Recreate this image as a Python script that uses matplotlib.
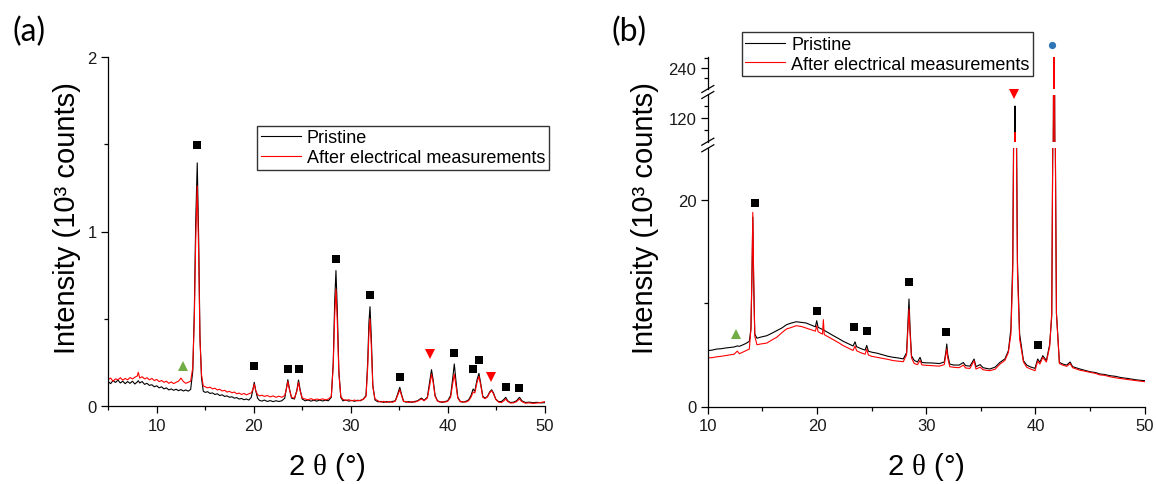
import matplotlib
matplotlib.use("Agg")
import matplotlib.pyplot as plt
from matplotlib.lines import Line2D

plt.rcParams['font.family'] = ['Liberation Sans', 'DejaVu Sans']
plt.rcParams['mathtext.fontset'] = 'custom'
plt.rcParams['mathtext.rm'] = 'Liberation Serif'

# ---------------- data: panel (a), intensity in 10^3 counts ----------------
two_theta_a = [
    5.00, 5.25, 5.50, 5.75, 6.00, 6.25, 6.50, 6.75, 7.00, 7.25, 7.50, 7.75,
    8.00, 8.10, 8.25, 8.50, 8.75, 9.00, 9.25, 9.50, 9.75, 10.00, 10.25, 10.50,
    10.75, 11.00, 11.25, 11.50, 11.75, 12.00, 12.25, 12.50, 12.75, 13.00, 13.25,
    13.50, 13.72, 13.88, 14.02, 14.18, 14.33, 14.46, 14.62, 14.80,
    15.00, 15.25, 15.50, 15.75, 16.00, 16.25, 16.50, 16.75, 17.00, 17.25,
    17.50, 17.75, 18.00, 18.25, 18.50, 18.75, 19.00, 19.25, 19.50,
    19.75, 19.92, 20.06, 20.20, 20.40, 20.60, 20.85, 21.10, 21.40, 21.70,
    22.00, 22.30, 22.60, 22.90, 23.20, 23.38, 23.52, 23.68, 23.90, 24.20,
    24.45, 24.62, 24.78, 25.00, 25.30, 25.60, 25.90, 26.20, 26.50, 26.80,
    27.10, 27.40, 27.70, 28.00, 28.20, 28.35, 28.48, 28.62, 28.78, 28.98,
    29.20, 29.50, 29.80, 30.10, 30.40, 30.70, 31.00, 31.30, 31.58, 31.75,
    31.88, 31.99, 32.12, 32.28, 32.50, 32.80, 33.10, 33.40, 33.70, 34.00,
    34.30, 34.60, 34.85, 35.06, 35.25, 35.45, 35.70, 36.00, 36.30, 36.60,
    36.90, 37.15, 37.32, 37.55, 37.90, 38.15, 38.33, 38.50, 38.70, 38.95,
    39.20, 39.45, 39.70, 40.00, 40.30, 40.52, 40.68, 40.84, 41.04, 41.30,
    41.55, 41.85, 42.15, 42.40, 42.62, 42.80, 43.02, 43.22, 43.40, 43.62,
    43.85, 44.10, 44.32, 44.53, 44.72, 44.95, 45.25, 45.55, 45.80, 45.98,
    46.18, 46.45, 46.80, 47.10, 47.40, 47.65, 48.00, 48.40, 48.80, 49.20,
    49.60, 50.00,
]
pristine_a = [
    0.140, 0.128, 0.146, 0.135, 0.148, 0.132, 0.142, 0.128, 0.140, 0.130, 0.142, 0.126,
    0.138, 0.145, 0.132, 0.140, 0.124, 0.130, 0.118, 0.122, 0.110, 0.116, 0.104, 0.110,
    0.098, 0.104, 0.092, 0.098, 0.090, 0.096, 0.088, 0.094, 0.086, 0.092, 0.085,
    0.095, 0.200, 0.550, 1.050, 1.393, 0.950, 0.400, 0.160, 0.085,
    0.078, 0.082, 0.072, 0.075, 0.066, 0.070, 0.060, 0.064, 0.055, 0.058,
    0.050, 0.053, 0.045, 0.048, 0.040, 0.043, 0.036, 0.040, 0.034,
    0.050, 0.095, 0.136, 0.090, 0.045, 0.032, 0.028, 0.034, 0.026, 0.031,
    0.025, 0.030, 0.026, 0.030, 0.045, 0.105, 0.151, 0.100, 0.045, 0.040,
    0.090, 0.149, 0.095, 0.040, 0.030, 0.034, 0.028, 0.033, 0.028, 0.034,
    0.029, 0.033, 0.030, 0.050, 0.250, 0.600, 0.776, 0.550, 0.200, 0.050,
    0.030, 0.034, 0.028, 0.032, 0.027, 0.033, 0.030, 0.040, 0.060, 0.250,
    0.480, 0.569, 0.400, 0.120, 0.035, 0.024, 0.026, 0.021, 0.025, 0.022,
    0.026, 0.030, 0.070, 0.107, 0.065, 0.028, 0.022, 0.025, 0.021, 0.026,
    0.030, 0.040, 0.045, 0.032, 0.050, 0.140, 0.208, 0.150, 0.060, 0.030,
    0.024, 0.021, 0.025, 0.030, 0.060, 0.160, 0.241, 0.150, 0.050, 0.026,
    0.022, 0.026, 0.035, 0.060, 0.097, 0.085, 0.150, 0.187, 0.130, 0.055,
    0.045, 0.055, 0.080, 0.093, 0.075, 0.040, 0.025, 0.026, 0.038, 0.050,
    0.030, 0.020, 0.022, 0.030, 0.050, 0.030, 0.020, 0.022, 0.019, 0.021,
    0.018, 0.019,
]
after_a = [
    0.152, 0.160, 0.142, 0.156, 0.150, 0.162, 0.148, 0.158, 0.150, 0.163, 0.155, 0.165,
    0.172, 0.193, 0.160, 0.168, 0.155, 0.162, 0.150, 0.158, 0.146, 0.152, 0.140, 0.146,
    0.136, 0.142, 0.130, 0.138, 0.128, 0.136, 0.142, 0.160, 0.140, 0.130, 0.136,
    0.142, 0.220, 0.500, 0.950, 1.262, 0.860, 0.380, 0.180, 0.115,
    0.110, 0.104, 0.108, 0.098, 0.102, 0.092, 0.096, 0.086, 0.090, 0.080,
    0.084, 0.076, 0.080, 0.070, 0.074, 0.066, 0.072, 0.064, 0.070,
    0.075, 0.095, 0.126, 0.090, 0.065, 0.058, 0.062, 0.055, 0.060, 0.052,
    0.058, 0.050, 0.056, 0.050, 0.060, 0.100, 0.140, 0.095, 0.050, 0.045,
    0.085, 0.136, 0.088, 0.045, 0.040, 0.036, 0.042, 0.035, 0.040, 0.036,
    0.041, 0.035, 0.040, 0.055, 0.230, 0.520, 0.670, 0.480, 0.185, 0.055,
    0.038, 0.032, 0.036, 0.030, 0.034, 0.029, 0.033, 0.038, 0.055, 0.220,
    0.420, 0.499, 0.350, 0.110, 0.040, 0.030, 0.022, 0.027, 0.020, 0.026,
    0.021, 0.028, 0.062, 0.093, 0.058, 0.025, 0.026, 0.020, 0.025, 0.022,
    0.028, 0.036, 0.040, 0.030, 0.045, 0.120, 0.183, 0.135, 0.055, 0.028,
    0.022, 0.025, 0.022, 0.027, 0.050, 0.130, 0.183, 0.120, 0.045, 0.024,
    0.025, 0.022, 0.030, 0.050, 0.080, 0.075, 0.135, 0.170, 0.120, 0.050,
    0.042, 0.052, 0.075, 0.088, 0.070, 0.038, 0.022, 0.020, 0.030, 0.040,
    0.026, 0.017, 0.018, 0.025, 0.040, 0.025, 0.016, 0.018, 0.015, 0.017,
    0.020, 0.025,
]

# phase markers, panel (a): (2theta, height)
square_a_x = [14.12, 20.05, 23.50, 24.62, 28.48, 31.99, 35.05, 40.68, 42.61, 43.25, 45.98, 47.39]
square_a_y = [1.496, 0.227, 0.212, 0.212, 0.841, 0.638, 0.168, 0.302, 0.210, 0.265, 0.109, 0.105]
tri_down_a_x = [38.18, 44.50]
tri_down_a_y = [0.298, 0.164]
tri_up_a_x = [12.68]
tri_up_a_y = [0.227]

# ---------------- data: panel (b), intensity in 10^3 counts ----------------
two_theta_b = [
    10.00, 10.40, 10.80, 11.20, 11.60, 12.00, 12.40, 12.70, 12.90, 13.20, 13.50,
    13.80, 13.95, 14.05, 14.12, 14.20, 14.30, 14.50, 14.90, 15.40, 15.90, 16.30,
    16.80, 17.20, 17.60, 18.10, 18.60, 19.00, 19.50, 19.85, 19.97, 20.10, 20.30,
    20.50, 20.58, 20.66, 21.00, 21.50, 22.00, 22.40, 22.90, 23.30, 23.48, 23.62,
    24.00, 24.40, 24.55, 24.70, 25.00, 25.50, 26.00, 26.50, 27.00, 27.50, 27.90,
    28.20, 28.32, 28.42, 28.52, 28.65, 28.90, 29.20, 29.43, 29.60, 30.00, 30.60,
    31.20, 31.65, 31.80, 31.88, 31.97, 32.15, 32.50, 33.00, 33.40, 33.60, 34.00,
    34.38, 34.55, 34.93, 35.20, 35.80, 36.30, 36.75, 37.20, 37.52, 37.75, 37.92,
    38.02, 38.08, 38.13, 38.18, 38.24, 38.35, 38.55, 38.90, 39.20, 39.60, 39.96,
    40.20, 40.40, 40.67, 41.00, 41.30, 41.49, 41.58, 41.64, 41.70, 41.76, 41.82,
    41.92, 42.19, 42.50, 42.86, 43.17, 43.40, 44.08, 44.50, 45.00, 45.50, 45.90,
    46.30, 46.80, 47.30, 47.80, 48.50, 49.20, 50.00,
]
pristine_b = [
    5.40, 5.45, 5.55, 5.58, 5.65, 5.70, 5.75, 5.85, 5.82, 5.95, 6.10,
    6.30, 7.50, 13.0, 18.3, 12.0, 7.00, 6.60, 6.72, 6.84, 7.10, 7.32,
    7.60, 7.90, 8.05, 8.19, 8.12, 8.07, 7.85, 7.70, 8.29, 7.65, 7.55,
    7.45, 7.40, 7.35, 7.15, 6.84, 6.55, 6.30, 6.05, 5.85, 6.25, 5.78,
    5.60, 5.45, 5.90, 5.35, 5.25, 5.15, 5.00, 4.85, 4.75, 4.68, 4.60,
    5.20, 8.00, 10.39, 7.50, 4.90, 4.45, 4.30, 4.75, 4.25, 4.22, 4.20,
    4.15, 4.30, 5.30, 6.04, 5.00, 4.10, 4.01, 4.00, 4.25, 3.95, 3.90,
    4.59, 3.85, 4.05, 3.75, 3.62, 3.80, 4.27, 4.60, 5.39, 7.50, 14.0,
    30.0, 70.0, 130.0, 70.0, 30.0, 14.0, 7.00, 4.43, 4.00, 3.80, 3.69,
    4.59, 4.27, 4.91, 4.43, 6.00, 8.77, 25.0, 120.0, 320.0, 120.0, 25.0,
    9.00, 4.27, 4.10, 4.00, 4.30, 3.85, 3.62, 3.50, 3.36, 3.28, 3.14,
    3.10, 2.98, 2.92, 2.80, 2.70, 2.58, 2.49,
]
after_b = [
    4.70, 4.72, 4.80, 4.85, 4.92, 4.98, 5.05, 5.35, 5.10, 5.25, 5.40,
    5.55, 7.50, 13.5, 18.76, 12.5, 6.80, 5.97, 6.05, 6.13, 6.45, 6.68,
    7.15, 7.49, 7.62, 7.81, 7.72, 7.58, 7.40, 7.28, 7.80, 7.23, 7.10,
    7.00, 8.39, 6.95, 6.75, 6.45, 6.15, 5.88, 5.62, 5.42, 5.85, 5.39,
    5.20, 5.05, 5.55, 4.98, 4.85, 4.75, 4.65, 4.55, 4.43, 4.38, 4.33,
    5.00, 7.50, 9.42, 7.00, 4.70, 4.15, 4.05, 4.45, 4.02, 3.98, 3.94,
    3.90, 4.05, 5.00, 5.56, 4.70, 3.85, 3.79, 3.75, 4.00, 3.72, 3.68,
    4.43, 3.62, 3.80, 3.55, 3.46, 3.60, 4.10, 4.45, 5.23, 7.00, 13.0,
    28.0, 60.0, 108.0, 60.0, 28.0, 13.0, 6.50, 4.30, 3.79, 3.60, 3.46,
    4.40, 4.10, 4.75, 4.30, 5.80, 9.05, 25.0, 120.0, 320.0, 120.0, 25.0,
    9.00, 4.15, 4.00, 3.88, 4.15, 3.75, 3.50, 3.42, 3.30, 3.20, 3.05,
    3.02, 2.88, 2.78, 2.70, 2.60, 2.50, 2.40,
]

square_b_x = [14.32, 20.00, 23.39, 24.61, 28.40, 31.84, 40.24]
square_b_y = [19.66, 9.26, 7.71, 7.27, 12.06, 7.23, 5.94]
tri_up_b_x = [12.55]
tri_up_b_y = [7.00]
tri_down_b_x = [38.07]
tri_down_b_y = [140.2]
circle_b_x = [41.49]
circle_b_y = [263.0]

series_labels = ['Pristine', 'After electrical measurements']

# ---------------- figure ----------------
W, H = 1156, 485
fig = plt.figure(figsize=(W / 100, H / 100), dpi=100)


def px_box(x0, y_top, x1, y_bottom):
    """Axes rectangle from pixel edges (origin top-left)."""
    return [x0 / W, 1 - y_bottom / H, (x1 - x0) / W, (y_bottom - y_top) / H]


def px(x, y):
    return x / W, 1 - y / H


SPINE_LW = 0.9
TICK_COLOR = '#1a1a1a'


def style_axes(ax, show_x=True):
    ax.set_facecolor('none')
    for s in ('top', 'right'):
        ax.spines[s].set_visible(False)
    for s in ('left', 'bottom'):
        ax.spines[s].set_linewidth(SPINE_LW)
    ax.tick_params(which='both', direction='out', width=SPINE_LW,
                   labelsize=12, pad=3.5, colors='black', labelcolor=TICK_COLOR)
    ax.tick_params(which='major', length=4.8)
    ax.tick_params(which='minor', length=2.8)
    if not show_x:
        ax.spines['bottom'].set_visible(False)
        ax.tick_params(axis='x', which='both', bottom=False, labelbottom=False)


def draw_series(ax, x, y_black, y_red):
    lb, = ax.plot(x, y_black, color='black', lw=0.8, zorder=2)
    lr, = ax.plot(x, y_red, color='#ff0000', lw=0.8, zorder=2.1)
    return lb, lr


def draw_markers(ax, xs, ys, marker, color, ms):
    ax.plot(xs, ys, ls='none', marker=marker, color=color, ms=ms,
            mew=0, clip_on=False, zorder=5)


GREEN = '#70ad47'
BLUE = '#2e75b6'
RED = '#ff0000'

# ---- panel (a) ----
ax_a = fig.add_axes(px_box(108.2, 58, 544.7, 407))
style_axes(ax_a)
line_k, line_r = draw_series(ax_a, two_theta_a, pristine_a, after_a)
ax_a.set_xlim(5, 50)
ax_a.set_ylim(0, 2)
ax_a.set_xticks([10, 20, 30, 40, 50])
ax_a.set_xticks([5, 15, 25, 35, 45], minor=True)
ax_a.set_yticks([0, 1, 2], ['0', '1', '2'])
ax_a.set_yticks([0.5, 1.5], minor=True)
draw_markers(ax_a, square_a_x, square_a_y, 's', 'black', 6.3)
draw_markers(ax_a, tri_down_a_x, tri_down_a_y, 'v', RED, 7.0)
draw_markers(ax_a, tri_up_a_x, tri_up_a_y, '^', GREEN, 7.0)

# ---- panel (b): broken y axis in three stacked segments ----
XL, XR = 707.8, 1144.7
ax_lo = fig.add_axes(px_box(XL, 149.3, XR, 407.5))
ax_mid = fig.add_axes(px_box(XL, 96.0, XR, 142.7))
ax_top = fig.add_axes(px_box(XL, 58.3, XR, 90.0))

style_axes(ax_lo)
style_axes(ax_mid, show_x=False)
style_axes(ax_top, show_x=False)

for ax in (ax_lo, ax_mid, ax_top):
    lk_b, lr_b = draw_series(ax, two_theta_b, pristine_b, after_b)
    ax.set_xlim(10, 50)

ax_lo.set_ylim(0, 24.95)
ax_lo.set_xticks([10, 20, 30, 40, 50])
ax_lo.set_xticks([15, 25, 35, 45], minor=True)
ax_lo.set_yticks([0, 20])
ax_lo.set_yticks([10], minor=True)

ax_mid.set_ylim(100.25, 139.2)
ax_mid.set_yticks([120])
ax_mid.set_yticks([110, 130], minor=True)

ax_top.set_ylim(219, 250.7)
ax_top.set_yticks([240])
ax_top.set_yticks([230, 250], minor=True)

draw_markers(ax_lo, square_b_x, square_b_y, 's', 'black', 6.3)
draw_markers(ax_lo, tri_up_b_x, tri_up_b_y, '^', GREEN, 7.0)
draw_markers(ax_mid, tri_down_b_x, tri_down_b_y, 'v', RED, 7.0)
draw_markers(ax_top, circle_b_x, circle_b_y, 'o', BLUE, 5.2)

# break marks on the left spine of panel (b)
for y_edge in (90.0, 96.0, 142.7, 149.3):
    x0, y0 = px(XL - 6, y_edge + 3.5)
    x1, y1 = px(XL + 6, y_edge - 3.5)
    fig.add_artist(Line2D([x0, x1], [y0, y1], transform=fig.transFigure,
                          color='black', lw=SPINE_LW))

# ---- legends ----
legend_kw = dict(loc='upper left', bbox_transform=fig.transFigure,
                 borderaxespad=0, frameon=True, fancybox=False,
                 edgecolor='#333333', fontsize=13, handlelength=2.2,
                 handletextpad=0.35, borderpad=0.2, labelspacing=0.15,
                 framealpha=1)
leg_a = fig.legend([line_k, line_r], series_labels,
                   bbox_to_anchor=px(257.3, 126.7), **legend_kw)
leg_b = fig.legend([lk_b, lr_b], series_labels,
                   bbox_to_anchor=px(741.7, 33.3), **legend_kw)
for leg in (leg_a, leg_b):
    leg.get_frame().set_linewidth(1.0)
    leg.set_zorder(10)

# ---- axis titles and panel letters ----
ylab = 'Intensity (10\u00b3 counts)'
xlab = r'2 $\mathrm{\theta}$ (°)'
for xc in (67, 645):
    fig.text(*px(xc, 218), ylab, rotation=90, ha='center', va='center', fontsize=21)
for xc in ((108.2 + 544.7) / 2, (XL + XR) / 2):
    fig.text(*px(xc, 467), xlab, ha='center', va='center', fontsize=21)

fig.text(*px(29, 32), '(a)', ha='center', va='center', fontsize=23, family='Lato')
fig.text(*px(629, 32), '(b)', ha='center', va='center', fontsize=23, family='Lato')

fig.savefig('out.png', dpi=100)
